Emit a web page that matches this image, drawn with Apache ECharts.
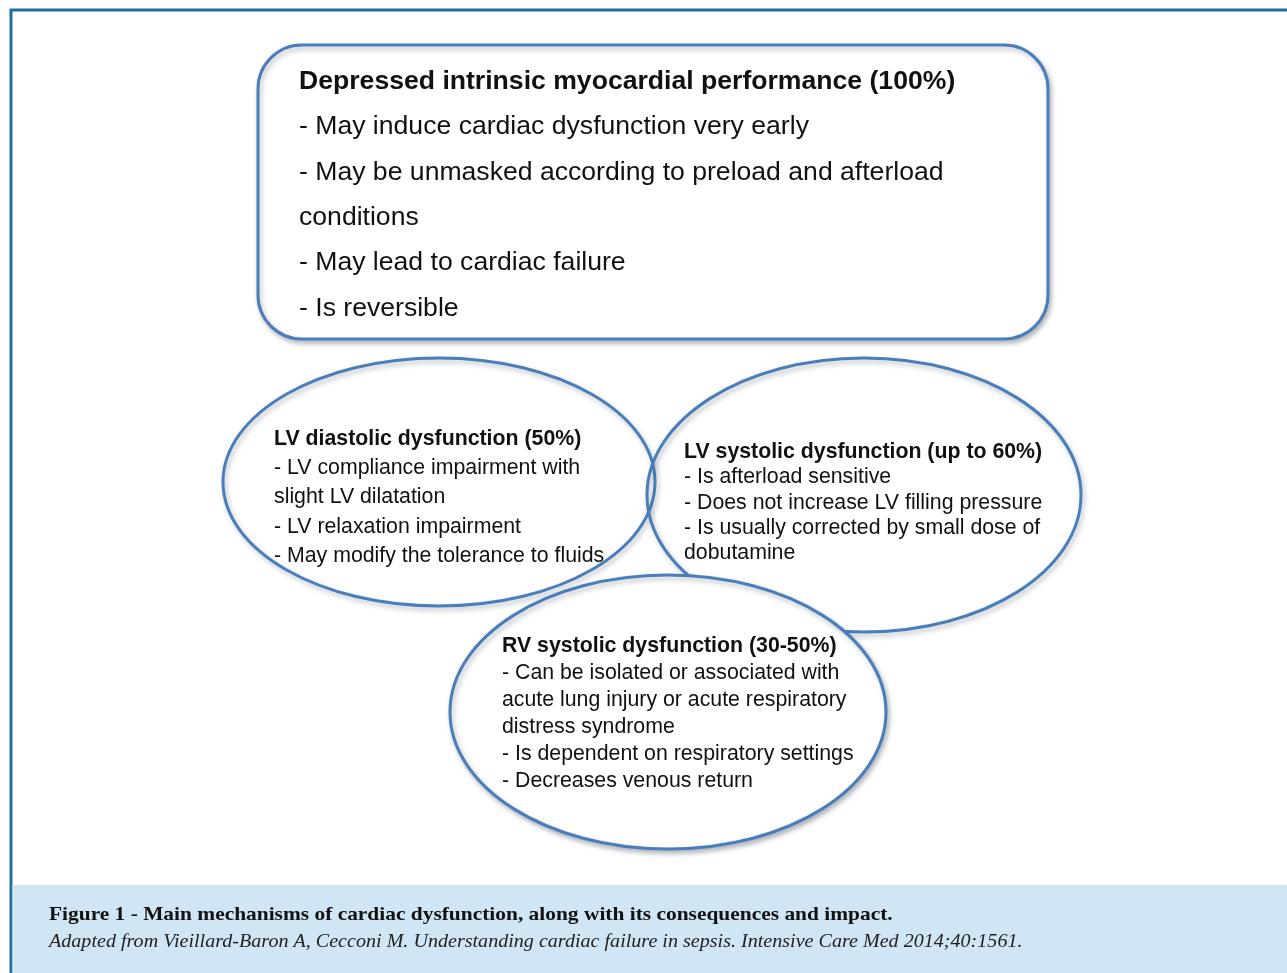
<!DOCTYPE html>
<html>
<head>
<meta charset="utf-8">
<script src="https://cdn.jsdelivr.net/npm/echarts@6/dist/echarts.min.js"></script>
<style>
html,body{margin:0;padding:0;background:#fff;}
#main{width:1287px;height:973px;}
</style>
</head>
<body>
<div id="main"></div>
<script>
// ---- content ----
const topTitle = "Depressed intrinsic myocardial performance (100%)";
const topLines = [
  "- May induce cardiac dysfunction very early",
  "- May be unmasked according to preload and afterload",
  "conditions",
  "- May lead to cardiac failure",
  "- Is reversible"
];
const diastolicTitle = "LV diastolic dysfunction (50%)";
const diastolicLines = [
  "- LV compliance impairment with",
  "slight LV dilatation",
  "- LV relaxation impairment",
  "- May modify the tolerance to fluids"
];
const systolicTitle = "LV systolic dysfunction (up to 60%)";
const systolicLines = [
  "- Is afterload sensitive",
  "- Does not increase LV filling pressure",
  "- Is usually corrected by small dose of",
  "dobutamine"
];
const rvTitle = "RV systolic dysfunction (30-50%)";
const rvLines = [
  "- Can be isolated or associated with",
  "acute lung injury or acute respiratory",
  "distress syndrome",
  "- Is dependent on respiratory settings",
  "- Decreases venous return"
];
const captionTitle = "Figure 1 - Main mechanisms of cardiac dysfunction, along with its consequences and impact.";
const captionSource = "Adapted from Vieillard-Baron A, Cecconi M. Understanding cardiac failure in sepsis. Intensive Care Med 2014;40:1561.";

// ---- drawing ----
const SANS = "'Liberation Sans', Arial, sans-serif";
const SERIF = "'Liberation Serif', 'DejaVu Serif', serif";
const STROKE = '#4a7ebb';
const shadow = {shadowBlur: 5, shadowOffsetX: 2, shadowOffsetY: 3, shadowColor: 'rgba(60,70,90,0.35)'};

function textBlock(title, lines, x, y0, step, size) {
  const els = [];
  els.push({type: 'text', z: 20, style: {text: title, x: x, y: y0, fill: '#111',
    font: 'bold ' + size + 'px ' + SANS, align: 'left', verticalAlign: 'middle'}});
  lines.forEach((t, i) => {
    els.push({type: 'text', z: 20, style: {text: t, x: x, y: y0 + (i + 1) * step, fill: '#111',
      font: size + 'px ' + SANS, align: 'left', verticalAlign: 'middle'}});
  });
  return els;
}

const graphics = [];
// outer frame
graphics.push({type: 'rect', z: 1, shape: {x: 11, y: 10, width: 1290, height: 980},
  style: {fill: '#fff', stroke: '#1e6f99', lineWidth: 3}});
// caption band
graphics.push({type: 'rect', z: 2, shape: {x: 12.5, y: 885, width: 1280, height: 90},
  style: {fill: '#d0e6f5'}});
graphics.push({type: 'text', z: 3, x: 49, y: 915, scaleX: 1.127,
  style: {text: captionTitle, x: 0, y: 0, fill: '#111',
  font: 'bold 19px ' + SERIF, align: 'left', verticalAlign: 'middle'}});
graphics.push({type: 'text', z: 3, x: 49, y: 942, scaleX: 1.057,
  style: {text: captionSource, x: 0, y: 0, fill: '#222',
  font: 'italic 19px ' + SERIF, align: 'left', verticalAlign: 'middle'}});

// top rounded box
graphics.push({type: 'rect', z: 5, shape: {x: 258, y: 45, width: 790, height: 294, r: 44},
  style: Object.assign({fill: '#fff', stroke: STROKE, lineWidth: 3}, shadow)});
textBlock(topTitle, topLines, 299, 81.5, 45.4, 26.6).forEach(e => graphics.push(e));

// ellipses
graphics.push({type: 'ellipse', z: 6, shape: {cx: 439, cy: 482, rx: 216, ry: 124},
  style: Object.assign({fill: 'rgba(255,255,255,0)', stroke: STROKE, lineWidth: 3}, shadow)});
graphics.push({type: 'ellipse', z: 7, shape: {cx: 864, cy: 495, rx: 217, ry: 137},
  style: Object.assign({fill: 'rgba(255,255,255,0)', stroke: STROKE, lineWidth: 3}, shadow)});
graphics.push({type: 'ellipse', z: 8, shape: {cx: 668, cy: 712, rx: 218, ry: 137},
  style: Object.assign({fill: '#fff', stroke: STROKE, lineWidth: 3}, shadow)});

textBlock(diastolicTitle, diastolicLines, 274, 439, 29.3, 21.3).forEach(e => graphics.push(e));
textBlock(systolicTitle, systolicLines, 684, 452, 25.4, 21.3).forEach(e => graphics.push(e));
textBlock(rvTitle, rvLines, 502, 646, 27, 21.3).forEach(e => graphics.push(e));

const chart = echarts.init(document.getElementById('main'), null, {renderer: 'canvas'});
chart.setOption({animation: false, graphic: {elements: graphics}});
</script>
</body>
</html>
